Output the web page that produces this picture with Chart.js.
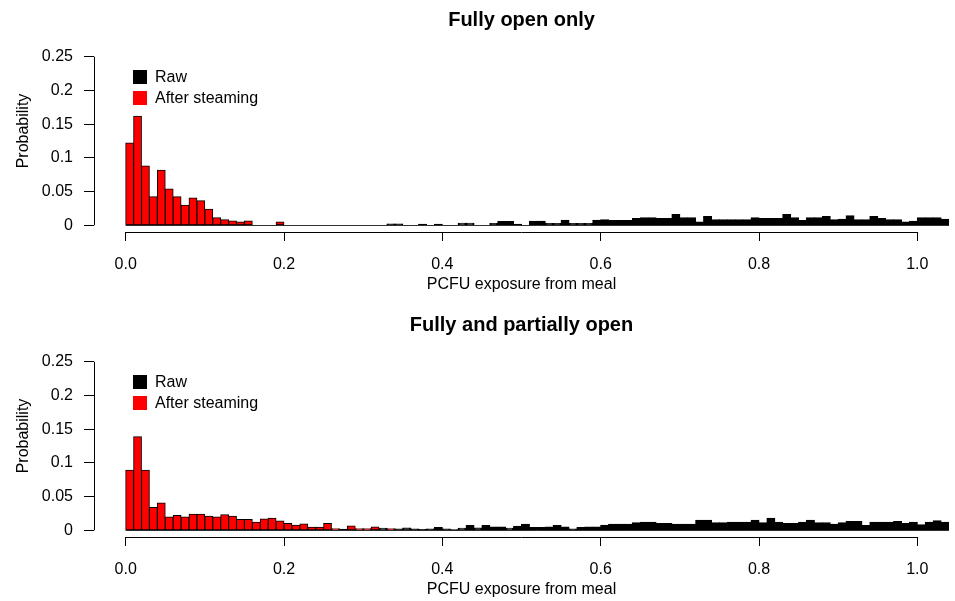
<!DOCTYPE html>
<html>
<head>
<meta charset="utf-8">
<script src="https://cdn.jsdelivr.net/npm/chart.js"></script>
<style>
html,body{margin:0;padding:0;background:#fff;}
#wrap{position:relative;width:955px;height:601px;overflow:hidden;}
canvas{position:absolute;left:0;}
</style>
</head>
<body>
<div id="wrap">
<canvas id="c1" width="955" height="300" style="top:0px"></canvas>
<canvas id="c2" width="955" height="296" style="top:305px"></canvas>
</div>
<script>
// ---------- data ----------
const binStart = [
 0.00,0.01,0.02,0.03,0.04,0.05,0.06,0.07,0.08,0.09,
 0.10,0.11,0.12,0.13,0.14,0.15,0.16,0.17,0.18,0.19,
 0.20,0.21,0.22,0.23,0.24,0.25,0.26,0.27,0.28,0.29,
 0.30,0.31,0.32,0.33,0.34,0.35,0.36,0.37,0.38,0.39,
 0.40,0.41,0.42,0.43,0.44,0.45,0.46,0.47,0.48,0.49,
 0.50,0.51,0.52,0.53,0.54,0.55,0.56,0.57,0.58,0.59,
 0.60,0.61,0.62,0.63,0.64,0.65,0.66,0.67,0.68,0.69,
 0.70,0.71,0.72,0.73,0.74,0.75,0.76,0.77,0.78,0.79,
 0.80,0.81,0.82,0.83,0.84,0.85,0.86,0.87,0.88,0.89,
 0.90,0.91,0.92,0.93,0.94,0.95,0.96,0.97,0.98,0.99,
 1.00,1.01,1.02,1.03
];
const binWidth = 0.01;
const panelTitles = ["Fully open only", "Fully and partially open"];
const seriesNames = ["Raw", "After steaming"];
const xTitle = "PCFU exposure from meal";
const yTitle = "Probability";
const xTicks = [0.0, 0.2, 0.4, 0.6, 0.8, 1.0];
const yTicks = [0, 0.05, 0.1, 0.15, 0.2, 0.25];

const rawOpen = [
 0,0,0,0,0,0,0,0,0,0,
 0,0,0,0,0,0,0,0,0,0,
 0,0,0,0,0,0,0,0,0,0,
 0,0,0,0.002,0.002,0,0,0.0015,0,0.0015,
 0,0,0.003,0.003,0,0,0.0025,0.0055,0.0055,0.0015,
 0,0.006,0.006,0.0025,0.0025,0.0075,0.0025,0.0025,0.0025,0.0075,
 0.008,0.007,0.007,0.007,0.010,0.011,0.011,0.010,0.010,0.016,
 0.011,0.011,0.005,0.013,0.008,0.008,0.008,0.008,0.008,0.011,
 0.010,0.010,0.010,0.016,0.011,0.007,0.011,0.011,0.013,0.008,
 0.009,0.014,0.008,0.008,0.013,0.010,0.008,0.008,0.005,0.006,
 0.011,0.011,0.011,0.009
];
const steamedOpen = [
 0.122,0.162,0.088,0.0425,0.0816,0.054,0.0425,0.030,0.0405,0.0366,
 0.024,0.0114,0.0084,0.0064,0.005,0.0064,0,0,0,0.005
];
const rawPartial = [
 0,0,0,0,0,0,0,0,0,0,
 0,0,0,0,0,0,0,0,0,0,
 0,0,0,0,0,0,0,0.0015,0,0,
 0,0,0.003,0,0.002,0.0035,0.002,0.001,0.002,0.004,
 0.002,0.0005,0.003,0.007,0.0035,0.007,0.005,0.005,0.003,0.006,
 0.009,0.004,0.004,0.005,0.007,0.005,0.002,0.004,0.005,0.005,
 0.0075,0.009,0.009,0.009,0.011,0.012,0.012,0.010,0.010,0.009,
 0.009,0.009,0.015,0.015,0.011,0.011,0.012,0.012,0.012,0.015,
 0.011,0.018,0.012,0.010,0.010,0.012,0.015,0.011,0.011,0.009,
 0.011,0.013,0.013,0.007,0.012,0.012,0.012,0.013,0.010,0.012,
 0.008,0.012,0.014,0.012
];
const steamedPartial = [
 0.089,0.139,0.089,0.034,0.0405,0.020,0.022,0.020,0.024,0.024,
 0.021,0.020,0.023,0.021,0.016,0.016,0.012,0.017,0.018,0.014,
 0.010,0.0074,0.0094,0.0045,0.0045,0.010,0.0025,0,0.0064,0.0025,
 0.0025,0.005,0,0.0025
];

// ---------- styles ----------
const FONT = "'Liberation Sans', Arial, Helvetica, sans-serif";
const colors = { raw: "#000000", steamed: "#ff0000" };

function toPoints(vals) {
  return vals.map((v, i) => ({ x: binStart[i] + binWidth / 2, y: v === 0 ? null : v }));
}

const rPlot = {
  id: 'rPlot',
  beforeDatasetsDraw(chart) {
    const { ctx, chartArea, scales: { x, y } } = chart;
    ctx.save();
    ctx.strokeStyle = '#333';
    ctx.lineWidth = 1;
    const y0 = Math.round(y.getPixelForValue(0)) + 0.5;
    ctx.beginPath();
    ctx.moveTo(x.getPixelForValue(binStart[0]), y0);
    ctx.lineTo(chartArea.right, y0);
    ctx.stroke();
    ctx.restore();
  },
  afterDraw(chart) {
    const { ctx, chartArea, scales: { x, y } } = chart;
    ctx.save();
    ctx.strokeStyle = '#000';
    ctx.lineWidth = 1;
    const xl = Math.round(chartArea.left) + 0.5;
    ctx.beginPath();
    ctx.moveTo(xl, y.getPixelForValue(yTicks[0]));
    ctx.lineTo(xl, y.getPixelForValue(yTicks[yTicks.length - 1]));
    ctx.stroke();
    const yb = Math.round(chartArea.bottom) + 0.5;
    ctx.beginPath();
    ctx.moveTo(x.getPixelForValue(xTicks[0]), yb);
    ctx.lineTo(x.getPixelForValue(xTicks[xTicks.length - 1]), yb);
    ctx.stroke();
    // y-axis title (R style, rotated)
    ctx.font = "16px " + FONT;
    ctx.fillStyle = '#000';
    ctx.textAlign = 'center';
    ctx.textBaseline = 'middle';
    ctx.save();
    ctx.translate(24, (chartArea.top + chartArea.bottom) / 2 - 10);
    ctx.rotate(-Math.PI / 2);
    ctx.fillText(yTitle, 0, 0);
    ctx.restore();
    // legend (R style, top-left inside plot)
    const lx = chartArea.left + 39, ly = chartArea.top + 20;
    const items = [[seriesNames[0], colors.raw], [seriesNames[1], colors.steamed]];
    ctx.textAlign = 'left';
    items.forEach((it, i) => {
      const yy = ly + i * 21;
      ctx.fillStyle = it[1];
      ctx.fillRect(lx, yy, 14, 14);
      ctx.fillStyle = '#000';
      ctx.fillText(it[0], lx + 22, yy + 7.5);
    });
    ctx.restore();
  }
};

function makeChart(id, title, raw, steamed, xAxisHeight, xTitleBottom) {
  return new Chart(document.getElementById(id), {
    type: 'bar',
    data: {
      datasets: [
        { label: seriesNames[1], data: toPoints(steamed), backgroundColor: colors.steamed,
          borderColor: '#000', borderWidth: 1, borderSkipped: false, order: 0,
          barPercentage: 1, categoryPercentage: 1, grouped: false, inflateAmount: 0.4 },
        { label: seriesNames[0], data: toPoints(raw), backgroundColor: colors.raw,
          borderColor: '#000', borderWidth: 1, borderSkipped: false, order: 1,
          barPercentage: 1, categoryPercentage: 1, grouped: false, inflateAmount: 0.5 }
      ]
    },
    options: {
      responsive: false,
      animation: false,
      devicePixelRatio: 1,
      layout: { padding: { left: 0, right: 6, top: 0, bottom: 0 } },
      plugins: {
        legend: { display: false },
        tooltip: { enabled: false },
        title: {
          display: true, text: title, fullSize: false, color: '#000',
          font: { family: FONT, size: 20, weight: 'bold' },
          padding: { top: 8, bottom: 18 }
        }
      },
      scales: {
        x: {
          type: 'linear', min: -0.04, max: 1.04, offset: false,
          afterBuildTicks: s => { s.ticks = xTicks.map(v => ({ value: v })); },
          afterFit: s => { s.height = xAxisHeight; },
          ticks: { autoSkip: false, maxRotation: 0, color: '#000', padding: 14,
                   font: { family: FONT, size: 16 }, callback: v => Number(v).toFixed(1) },
          grid: { display: true, offset: false, drawOnChartArea: false, drawTicks: true,
                  tickLength: 9, color: '#000' },
          border: { display: false },
          title: { display: true, text: xTitle, color: '#000',
                   font: { family: FONT, size: 16 }, padding: { top: 0, bottom: xTitleBottom } }
        },
        y: {
          type: 'linear', min: -0.01, max: 0.26,
          afterBuildTicks: s => { s.ticks = yTicks.map(v => ({ value: v })); },
          afterFit: s => { s.width = 94; },
          ticks: { color: '#000', padding: 11, font: { family: FONT, size: 16 },
                   callback: v => String(v) },
          grid: { display: true, offset: false, drawOnChartArea: false, drawTicks: true,
                  tickLength: 10, color: '#000' },
          border: { display: false },
          title: { display: false }
        }
      }
    },
    plugins: [rPlot]
  });
}

makeChart('c1', panelTitles[0], rawOpen, steamedOpen, 68, 6);
makeChart('c2', panelTitles[1], rawPartial, steamedPartial, 64, 2);
</script>
</body>
</html>
